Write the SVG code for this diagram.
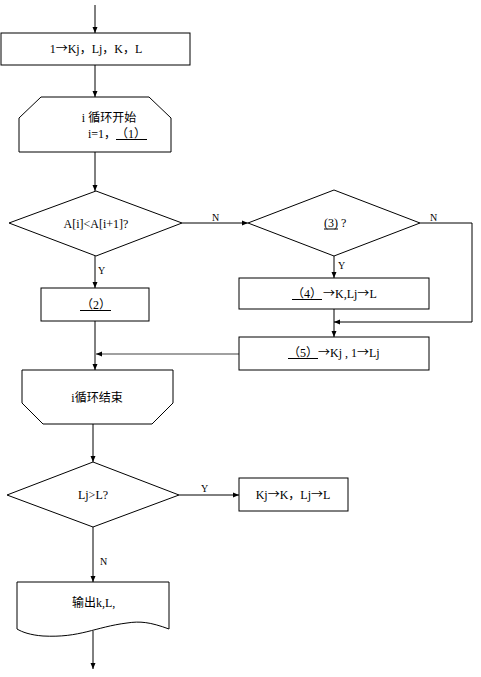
<svg xmlns="http://www.w3.org/2000/svg" width="481" height="677" viewBox="0 0 481 677">
<style>
.s{fill:#fff;stroke:#000;stroke-width:1}
.c{fill:none;stroke:#000;stroke-width:1}
.g{fill:none;stroke:#808080;stroke-width:1.3}
.u{stroke:#000;stroke-width:1}
text{font-family:"Liberation Serif","Noto Sans CJK SC",serif;font-size:12px;fill:#000}
.ar{font-family:"Noto Sans CJK SC","Liberation Serif",sans-serif}
.m{text-anchor:middle}
.l{font-size:10px}
</style>
<defs>
<marker id="a" markerUnits="userSpaceOnUse" markerWidth="6" markerHeight="6" viewBox="0 0 6 6" refX="6" refY="3" orient="auto">
<path d="M0,0.5 L6,3 L0,5.5 Z" fill="#000"/>
</marker>
</defs>
<g id="connectors">
<line class="c" x1="95" y1="5" x2="95" y2="33" marker-end="url(#a)"/>
<line class="c" x1="95" y1="65" x2="95" y2="97" marker-end="url(#a)"/>
<line class="c" x1="95" y1="152" x2="95" y2="191" marker-end="url(#a)"/>
<line class="c" x1="182" y1="223" x2="248" y2="223" marker-end="url(#a)"/>
<text x="212" y="221" class="l">N</text>
<line class="c" x1="95" y1="256" x2="95" y2="288" marker-end="url(#a)"/>
<text x="98" y="274" class="l">Y</text>
<line class="c" x1="95" y1="321" x2="95" y2="370" marker-end="url(#a)"/>
<line class="g" x1="239" y1="354" x2="96" y2="354" marker-end="url(#a)"/>
<polyline class="c" points="420,223 472,223 472,322 334,322" marker-end="url(#a)"/>
<text x="430" y="221" class="l">N</text>
<line class="c" x1="334" y1="256" x2="334" y2="278" marker-end="url(#a)"/>
<text x="338" y="269" class="l">Y</text>
<line class="c" x1="334" y1="309" x2="334" y2="337" marker-end="url(#a)"/>
<line class="c" x1="93" y1="424" x2="93" y2="462" marker-end="url(#a)"/>
<line class="c" x1="179" y1="495" x2="239" y2="495" marker-end="url(#a)"/>
<text x="201" y="492" class="l">Y</text>
<line class="c" x1="93" y1="527" x2="93" y2="582" marker-end="url(#a)"/>
<text x="100" y="565" class="l">N</text>
<line class="c" x1="93" y1="631" x2="93" y2="669" marker-end="url(#a)"/>
</g>
<g id="init">
<rect class="s" x="1" y="33" width="189" height="32"/>
<text x="96" y="53" class="m">1<tspan class="ar">→</tspan>Kj，Lj，K，L</text>
</g>
<g id="loopStart">
<polygon class="s" points="41,97 149,97 171,118 171,152 19,152 19,118"/>
<text x="109" y="122" class="m">i 循环开始</text>
<text x="88" y="138">i=1，</text>
<text x="131" y="138" class="m">（1）</text>
<line class="u" x1="116" y1="139.5" x2="147" y2="139.5"/>
</g>
<g id="cond1">
<polygon class="s" points="96,191 182,223 96,256 9,223"/>
<text x="96" y="228" class="m">A[i]&lt;A[i+1]?</text>
</g>
<g id="step2">
<rect class="s" x="41" y="288" width="108" height="33"/>
<text x="96" y="309" class="m">（2）</text>
<line class="u" x1="80" y1="310.5" x2="111" y2="310.5"/>
</g>
<g id="cond3">
<polygon class="s" points="334,190 420,223 334,256 248,223"/>
<text x="324" y="227">(3)</text>
<line class="u" x1="324" y1="229" x2="338" y2="229"/>
<text x="341" y="227">?</text>
</g>
<g id="step4">
<rect class="s" x="239" y="278" width="190" height="31"/>
<text x="307" y="298" class="m">（4）</text>
<text x="323" y="298"><tspan class="ar">→</tspan>K,Lj<tspan class="ar">→</tspan>L</text>
<line class="u" x1="292" y1="299.5" x2="322" y2="299.5"/>
</g>
<g id="step5">
<rect class="s" x="239" y="337" width="190" height="33"/>
<text x="303" y="357" class="m">（5）</text>
<text x="318" y="357"><tspan class="ar">→</tspan>Kj , 1<tspan class="ar">→</tspan>Lj</text>
<line class="u" x1="288" y1="358.5" x2="318" y2="358.5"/>
</g>
<g id="loopEnd">
<polygon class="s" points="22,370 173,370 173,403 152,424 43,424 22,403"/>
<text x="97" y="402" class="m">i循环结束</text>
</g>
<g id="cond2">
<polygon class="s" points="93,462 179,495 93,527 7,495"/>
<text x="93" y="499" class="m">Lj&gt;L?</text>
</g>
<g id="assign">
<rect class="s" x="239" y="478" width="109" height="33"/>
<text x="293" y="499" class="m">Kj<tspan class="ar">→</tspan>K，Lj<tspan class="ar">→</tspan>L</text>
</g>
<g id="output">
<path class="s" d="M17,582 L169,582 L169,629 C150,622 140,621 127,623 C95,627 80,638 43,636 C30,635 22,632 17,629 Z"/>
<text x="72" y="607">输出k,L,</text>
</g>
</svg>
